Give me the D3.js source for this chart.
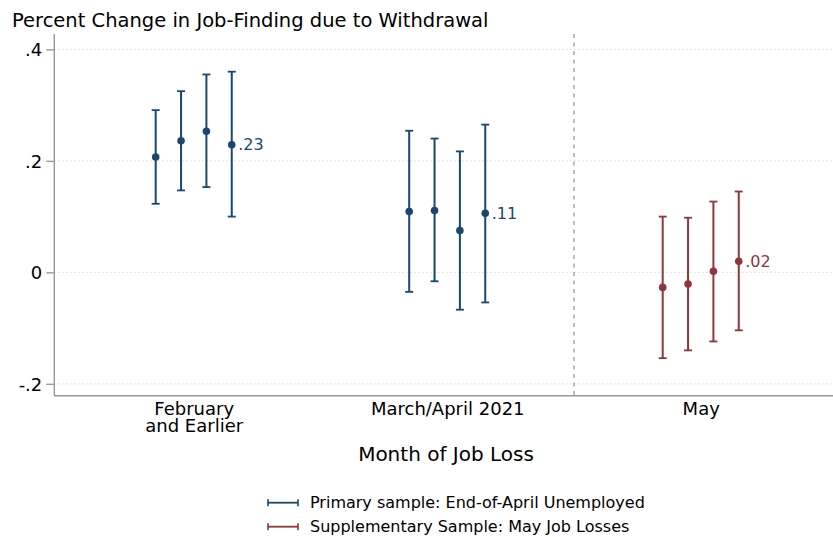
<!DOCTYPE html>
<html>
<head>
<meta charset="utf-8">
<script src="https://cdn.jsdelivr.net/npm/d3@7"></script>
<style>
  html, body { margin: 0; padding: 0; background: #fff; }
  svg { display: block; font-family: "DejaVu Sans", sans-serif; }
  svg text { font-family: "DejaVu Sans", sans-serif; }
</style>
</head>
<body>
<svg id="chart" width="833" height="537"></svg>
<script>
// Month-of-job-loss groups on the x axis (1, 2, 3)
const categoryLines = [["February", "and Earlier"], ["March/April 2021"], ["May"]];
const categoryPos = [1, 2, 3];
// Four specifications per group, side by side
const specOffsets = [-0.15, -0.05, 0.05, 0.15];

// Primary sample: End-of-April unemployed (groups 1 and 2)
const primaryGroup = [1, 1, 1, 1, 2, 2, 2, 2];
const primaryEst = [0.207, 0.236, 0.253, 0.229, 0.109, 0.111, 0.075, 0.106];
const primaryLo  = [0.123, 0.147, 0.153, 0.100, -0.035, -0.016, -0.067, -0.054];
const primaryHi  = [0.291, 0.325, 0.355, 0.360, 0.254, 0.240, 0.217, 0.265];

// Supplementary sample: May job losses (group 3)
const suppGroup = [3, 3, 3, 3];
const suppEst = [-0.027, -0.021, 0.002, 0.020];
const suppLo  = [-0.154, -0.140, -0.124, -0.104];
const suppHi  = [0.100, 0.098, 0.127, 0.145];

const yTicks = [-0.2, 0, 0.2, 0.4];
const yTickLabels = ["-.2", "0", ".2", ".4"];
const dividerAt = 2.5;

const seriesNames = ["Primary sample: End-of-April Unemployed", "Supplementary Sample: May Job Losses"];
const seriesColors = ["#1a476f", "#90353b"];

const svg = d3.select("#chart");
const plot = { left: 54.3, top: 34, bottom: 395.7 };

const x = d3.scaleLinear().domain([0.45, 3.55]).range([plot.left, plot.left + 3.1 * 253.5]);
const y = d3.scaleLinear().domain([-0.2213, 0.4276]).range([plot.bottom, plot.top]);

// dotted horizontal gridlines
svg.append("g").selectAll("line").data(yTicks).join("line")
  .attr("x1", plot.left).attr("x2", 833)
  .attr("y1", d => y(d)).attr("y2", d => y(d))
  .attr("stroke", "#c4c4c4").attr("stroke-width", 1)
  .attr("stroke-dasharray", "1,3");

// y axis
const yAxis = d3.axisLeft(y).tickValues(yTicks)
  .tickFormat((d, i) => yTickLabels[i]).tickSize(8).tickPadding(4);
const gy = svg.append("g").attr("transform", `translate(${plot.left},0)`).call(yAxis)
  .attr("font-family", "DejaVu Sans");
gy.select(".domain").attr("stroke", "#999").attr("stroke-width", 1.4)
  .attr("d", `M0,${plot.top}V${plot.bottom}`);
gy.selectAll(".tick line").attr("stroke", "#999").attr("stroke-width", 1.4);
gy.selectAll(".tick text").attr("fill", "#000").style("font-size", "18px")
  .attr("dy", "0.35em");

// x axis
const xAxis = d3.axisBottom(x).tickValues(categoryPos).tickSize(0).tickFormat("");
const gx = svg.append("g").attr("transform", `translate(0,${plot.bottom})`).call(xAxis)
  .attr("font-family", "DejaVu Sans");
gx.select(".domain").attr("stroke", "#999").attr("stroke-width", 1.4)
  .attr("d", `M${plot.left},0H833`);
gx.selectAll(".tick").each(function(d, i) {
  const t = d3.select(this).append("text")
    .attr("fill", "#000").attr("text-anchor", "middle")
    .style("font-size", "18px");
  categoryLines[i].forEach((line, k) => {
    t.append("tspan").attr("x", 0).attr("y", 19.3 + k * 16.7).text(line);
  });
});

// divider between samples
svg.append("line")
  .attr("x1", x(dividerAt)).attr("x2", x(dividerAt))
  .attr("y1", plot.top).attr("y2", plot.bottom)
  .attr("stroke", "#999").attr("stroke-width", 1.3)
  .attr("stroke-dasharray", "4,4.5");

// error bars with caps and point estimates
function drawSeries(groups, est, lo, hi, color, cls) {
  const rows = est.map((e, i) => ({
    xv: groups[i] + specOffsets[i % 4], e, lo: lo[i], hi: hi[i], last: i % 4 === 3
  }));
  const g = svg.append("g").attr("class", cls);
  const capW = 4;
  g.selectAll("line.ci").data(rows).join("line").attr("class", "ci")
    .attr("x1", d => x(d.xv)).attr("x2", d => x(d.xv))
    .attr("y1", d => y(d.lo)).attr("y2", d => y(d.hi))
    .attr("stroke", color).attr("stroke-width", 2);
  ["lo", "hi"].forEach(k => {
    g.selectAll("line.cap-" + k).data(rows).join("line").attr("class", "cap-" + k)
      .attr("x1", d => x(d.xv) - capW).attr("x2", d => x(d.xv) + capW)
      .attr("y1", d => y(d[k])).attr("y2", d => y(d[k]))
      .attr("stroke", color).attr("stroke-width", 1.8);
  });
  g.selectAll("circle").data(rows).join("circle")
    .attr("cx", d => x(d.xv)).attr("cy", d => y(d.e)).attr("r", 3.8)
    .attr("fill", color);
  const fmt = v => d3.format(".2f")(v).replace(/^0\./, ".").replace(/^-0\./, "-.");
  g.selectAll("text").data(rows.filter(d => d.last)).join("text")
    .attr("x", d => x(d.xv) + 6.5).attr("y", d => y(d.e)).attr("dy", "0.36em")
    .attr("fill", color).style("font-size", "16px")
    .text(d => fmt(d.e));
}
drawSeries(primaryGroup, primaryEst, primaryLo, primaryHi, seriesColors[0], "primary");
drawSeries(suppGroup, suppEst, suppLo, suppHi, seriesColors[1], "supplementary");

// title and axis title
svg.append("text").attr("x", 12).attr("y", 26.5)
  .style("font-size", "19.5px").attr("fill", "#000")
  .text("Percent Change in Job-Finding due to Withdrawal");
svg.append("text").attr("x", 446).attr("y", 460.7).attr("text-anchor", "middle")
  .style("font-size", "20px").attr("fill", "#000")
  .text("Month of Job Loss");

// legend
const legend = svg.append("g");
seriesNames.forEach((name, i) => {
  const ly = 502.7 + i * 24;
  const c = seriesColors[i];
  legend.append("line").attr("x1", 268).attr("x2", 298).attr("y1", ly).attr("y2", ly)
    .attr("stroke", c).attr("stroke-width", 1.8);
  [268, 298].forEach(cx => legend.append("line")
    .attr("x1", cx).attr("x2", cx).attr("y1", ly - 3.5).attr("y2", ly + 3.5)
    .attr("stroke", c).attr("stroke-width", 1.6));
  legend.append("text").attr("x", 310).attr("y", ly + 5.6)
    .style("font-size", "16px").attr("fill", "#000").text(name);
});
</script>
</body>
</html>
